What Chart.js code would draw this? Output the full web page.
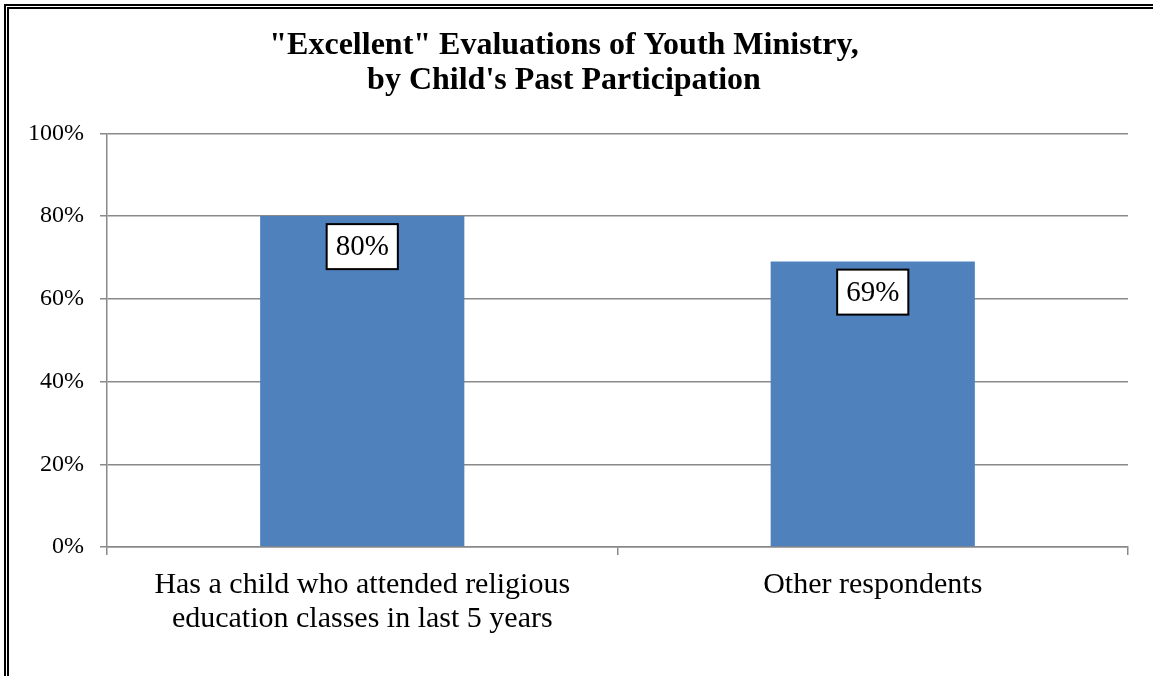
<!DOCTYPE html>
<html>
<head>
<meta charset="utf-8">
<script src="https://cdn.jsdelivr.net/npm/chart.js@4/dist/chart.umd.min.js"></script>
<style>
  html, body { margin: 0; padding: 0; background: #fff; overflow: hidden; }
  #wrap { position: relative; width: 1153px; height: 676px; }
  #frame {
    position: absolute; left: 4px; top: 4px; width: 1170px; height: 700px;
    border: 5px double #000; box-sizing: border-box;
  }
  #chart { position: absolute; left: 0; top: 0; }
</style>
</head>
<body>
<div id="wrap">
  <div id="frame"></div>
  <canvas id="chart" width="1153" height="676"></canvas>
</div>
<script>
const categories = [
  ["Has a child who attended religious", "education classes in last 5 years"],
  "Other respondents"
];
const excellentPct = [80, 69];
const yTicks = [0, 20, 40, 60, 80, 100];

const serif = "'Liberation Serif', 'DejaVu Serif', serif";

// boxed value labels just under the top of each bar
const boxLabels = {
  id: "boxLabels",
  afterDatasetsDraw(chart) {
    const ctx = chart.ctx;
    const meta = chart.getDatasetMeta(0);
    ctx.save();
    ctx.font = "29px " + serif;
    ctx.textAlign = "center";
    ctx.textBaseline = "middle";
    meta.data.forEach(function (bar, i) {
      const txt = excellentPct[i] + "%";
      const w = ctx.measureText(txt).width + 18;
      const h = 45;
      const top = bar.y + 8;
      ctx.fillStyle = "#fff";
      ctx.fillRect(bar.x - w / 2, top, w, h);
      ctx.strokeStyle = "#000";
      ctx.lineWidth = 2;
      ctx.strokeRect(bar.x - w / 2, top, w, h);
      ctx.fillStyle = "#000";
      ctx.fillText(txt, bar.x, top + h / 2 + 1);
    });
    ctx.restore();
  }
};

const ctx = document.getElementById("chart").getContext("2d");

new Chart(ctx, {
  type: "bar",
  data: {
    labels: categories,
    datasets: [
      {
        data: excellentPct,
        backgroundColor: "#4F81BD",
        borderWidth: 0,
        barPercentage: 0.4,
        categoryPercentage: 1.0
      }
    ]
  },
  options: {
    responsive: false,
    animation: false,
    devicePixelRatio: 1,
    layout: { padding: { left: 0, right: 25, top: 0, bottom: 0 } },
    plugins: {
      legend: { display: false },
      tooltip: { enabled: false },
      title: {
        display: true,
        text: ['"Excellent" Evaluations of Youth Ministry,', "by Child's Past Participation"],
        color: "#000",
        font: { family: serif, size: 32, weight: "bold", lineHeight: 1.1 },
        padding: { top: 28, bottom: 35 }
      }
    },
    scales: {
      y: {
        min: 0,
        max: 100,
        afterBuildTicks(scale) {
          scale.ticks = yTicks.map(function (v) { return { value: v }; });
        },
        afterFit(scale) { scale.width = 107; },
        ticks: {
          color: "#000",
          padding: 16,
          font: { family: serif, size: 24 },
          callback: function (v) { return v + "%"; }
        },
        grid: { color: "#898989", lineWidth: 1.5, tickLength: 7 },
        border: { color: "#898989", width: 1.5 }
      },
      x: {
        afterFit(scale) { scale.height = 129; },
        ticks: {
          color: "#000",
          padding: 13,
          maxRotation: 0,
          font: { family: serif, size: 30, lineHeight: 1.13 }
        },
        grid: { drawOnChartArea: false, color: "#898989", lineWidth: 1.5, tickLength: 8 },
        border: { color: "#898989", width: 1.5 }
      }
    }
  },
  plugins: [boxLabels]
});
</script>
</body>
</html>
